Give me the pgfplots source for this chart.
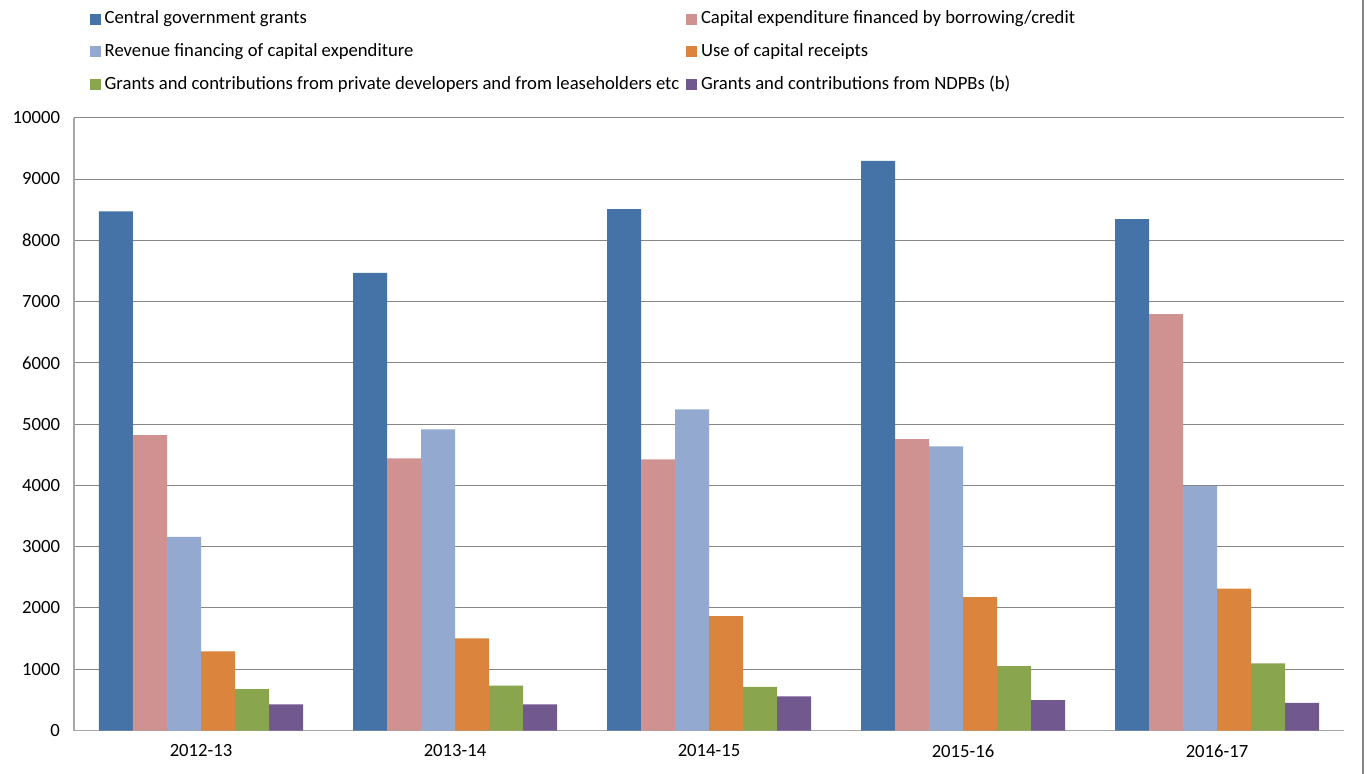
\documentclass[border=0pt]{standalone}
\usepackage{pgfplots}
\pgfplotsset{compat=1.18}
\usepackage{fontspec}
\setmainfont{Carlito}
\definecolor{cA}{HTML}{4572A7}
\definecolor{cB}{HTML}{D09291}
\definecolor{cC}{HTML}{94A9CF}
\definecolor{cD}{HTML}{DB843D}
\definecolor{cE}{HTML}{89A54E}
\definecolor{cF}{HTML}{71588F}
\definecolor{gridc}{HTML}{868686}
\definecolor{axisc}{HTML}{A6A6A6}
\begin{document}
\begin{tikzpicture}
\useasboundingbox (-55.5pt,-32.6pt) rectangle (969.75pt,547.9pt);
\draw[color=gridc, line width=1.1pt] (966.75pt,-32.6pt) -- (966.75pt,547.9pt);
\begin{axis}[
  at={(0pt,0pt)}, anchor=south west,
  scale only axis, width=952.5pt, height=459.6pt,
  ybar=0pt, bar width=25.5pt,
  xmin=-0.5, xmax=4.5, ymin=0, ymax=10000,
  xtick={0,1,2,3,4},
  xticklabels={2012-13,2013-14,2014-15,2015-16,2016-17},
  ytick={0,1000,...,10000},
  scaled y ticks=false,
  /pgf/number format/.cd, set thousands separator={}, assume math mode=true,
  /pgfplots/.cd,
  axis x line*=bottom, axis y line*=left,
  axis line style={color=axisc, line width=0.9pt},
  x axis line style={-}, y axis line style={-},
  major tick length=0pt,
  ymajorgrids, major grid style={color=gridc, line width=0.75pt},
  tick label style={font=\fontsize{14pt}{16pt}\selectfont, color=black},
  yticklabel style={xshift=-7pt},
  xticklabel style={yshift=-7pt},
  legend columns=2,
  legend cell align=left,
  legend image code/.code={\fill[#1,draw=none] (0pt,-4.1pt) rectangle (8.25pt,4.1pt);},
  legend style={draw=none, fill=none, at={(axis description cs:0.009,1.182)}, anchor=north west,
    font=\fontsize{14pt}{16pt}\selectfont, row sep=9.5pt,
    nodes={inner sep=1pt, text height=10pt, text depth=3pt},
    /tikz/every odd column/.append style={column sep=2pt}},
]
\addplot[fill=cA, draw=none] coordinates {(0,8470) (1,7470) (2,8510) (3,9296) (4,8346)};
\addlegendentry{\makebox[435pt][l]{Central government grants}}
\addplot[fill=cB, draw=none] coordinates {(0,4822) (1,4442) (2,4425) (3,4755) (4,6796)};
\addlegendentry{Capital expenditure financed by borrowing/credit}
\addplot[fill=cC, draw=none] coordinates {(0,3159) (1,4915) (2,5239) (3,4638) (4,3990)};
\addlegendentry{\makebox[435pt][l]{Revenue financing of capital expenditure}}
\addplot[fill=cD, draw=none] coordinates {(0,1292) (1,1505) (2,1867) (3,2177) (4,2315)};
\addlegendentry{Use of capital receipts}
\addplot[fill=cE, draw=none] coordinates {(0,674) (1,731) (2,711) (3,1053) (4,1095)};
\addlegendentry{\makebox[435pt][l]{Grants and contributions from private developers and from leaseholders etc}}
\addplot[fill=cF, draw=none] coordinates {(0,426) (1,428) (2,556) (3,497) (4,453)};
\addlegendentry{Grants and contributions from NDPBs (b)}
\end{axis}
\end{tikzpicture}
\end{document}
